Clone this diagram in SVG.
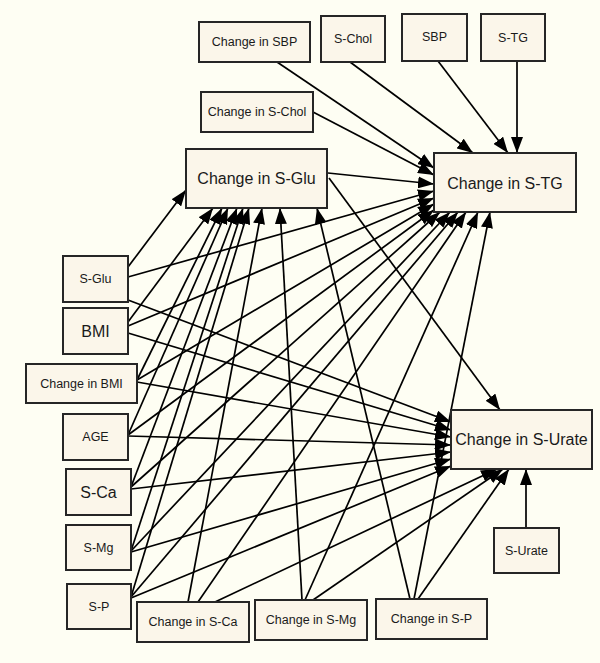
<svg xmlns="http://www.w3.org/2000/svg" width="600" height="663" viewBox="0 0 600 663">
<style>
.n rect{fill:#FBF6EA;stroke:#262626;stroke-width:2}
.n text{font-family:"Liberation Sans",Arial,sans-serif;font-size:12.5px;fill:#1a1a1a;text-anchor:middle;dominant-baseline:central}
.n text.b{font-size:16px}
.n text.m{font-size:16px}
#edges line{stroke:#000;stroke-width:1.7;marker-end:url(#ah)}
</style>
<defs>
<marker id="ah" markerUnits="userSpaceOnUse" markerWidth="17" markerHeight="12" refX="16" refY="6" orient="auto">
<path d="M0,0 L16,6 L0,12 z" fill="#000"/>
</marker>
</defs>
<rect width="600" height="663" fill="#FEFEF3"/>
<g id="edges">
<line x1="277" y1="62" x2="434" y2="168"/>
<line x1="350" y1="62" x2="473" y2="153"/>
<line x1="438" y1="61" x2="508" y2="153"/>
<line x1="517" y1="61" x2="517" y2="153"/>
<line x1="313" y1="112" x2="434" y2="175"/>
<line x1="328" y1="173" x2="434" y2="184"/>
<line x1="329" y1="178" x2="500" y2="410"/>
<line x1="526" y1="528" x2="526" y2="469"/>
<line x1="128" y1="267" x2="186" y2="190"/>
<line x1="128" y1="277" x2="434" y2="191"/>
<line x1="128" y1="300" x2="451" y2="422"/>
<line x1="128" y1="322" x2="213" y2="208"/>
<line x1="128" y1="326" x2="434" y2="198"/>
<line x1="128" y1="333" x2="451" y2="430"/>
<line x1="137" y1="380" x2="222" y2="208"/>
<line x1="137" y1="380" x2="434" y2="204"/>
<line x1="137" y1="382" x2="451" y2="437"/>
<line x1="128" y1="435" x2="228" y2="208"/>
<line x1="128" y1="435" x2="434" y2="210"/>
<line x1="128" y1="436" x2="451" y2="445"/>
<line x1="131" y1="487" x2="237" y2="208"/>
<line x1="131" y1="487" x2="440" y2="212"/>
<line x1="131" y1="489" x2="451" y2="452"/>
<line x1="131" y1="551" x2="243" y2="208"/>
<line x1="131" y1="551" x2="450" y2="212"/>
<line x1="131" y1="552" x2="451" y2="459"/>
<line x1="131" y1="597" x2="249" y2="208"/>
<line x1="131" y1="597" x2="458" y2="212"/>
<line x1="131" y1="598" x2="451" y2="466"/>
<line x1="188" y1="602" x2="262" y2="208"/>
<line x1="198" y1="602" x2="466" y2="212"/>
<line x1="215" y1="602" x2="497" y2="469"/>
<line x1="302" y1="600" x2="280" y2="208"/>
<line x1="305" y1="600" x2="478" y2="212"/>
<line x1="313" y1="600" x2="503" y2="469"/>
<line x1="410" y1="599" x2="317" y2="208"/>
<line x1="414" y1="599" x2="490" y2="212"/>
<line x1="418" y1="599" x2="509" y2="469"/>
</g>
<g id="n_csbp" class="n"><rect x="199" y="22" width="111" height="40"/><text x="254.5" y="42">Change in SBP</text></g>
<g id="n_schol" class="n"><rect x="321" y="16" width="64" height="46"/><text x="353" y="39">S-Chol</text></g>
<g id="n_sbp" class="n"><rect x="402" y="14" width="65" height="47"/><text x="434.5" y="37">SBP</text></g>
<g id="n_stg" class="n"><rect x="481" y="14" width="64" height="47"/><text x="513" y="38">S-TG</text></g>
<g id="n_cschol" class="n"><rect x="201" y="92" width="112" height="40"/><text x="257" y="112">Change in S-Chol</text></g>
<g id="n_csglu" class="n"><rect x="186" y="149" width="141" height="59"/><text class="b" x="256.5" y="178.5">Change in S-Glu</text></g>
<g id="n_cstg" class="n"><rect x="434" y="153" width="142" height="59"/><text class="b" x="505" y="183">Change in S-TG</text></g>
<g id="n_sglu" class="n"><rect x="63" y="256" width="65" height="46"/><text x="95.5" y="279">S-Glu</text></g>
<g id="n_bmi" class="n"><rect x="63" y="308" width="65" height="46"/><text class="m" x="95.5" y="331">BMI</text></g>
<g id="n_cbmi" class="n"><rect x="26" y="364" width="111" height="39"/><text x="81.5" y="383.5">Change in BMI</text></g>
<g id="n_age" class="n"><rect x="63" y="414" width="65" height="46"/><text x="95.5" y="437">AGE</text></g>
<g id="n_sca" class="n"><rect x="66" y="469" width="65" height="46"/><text class="m" x="98.5" y="492">S-Ca</text></g>
<g id="n_smg" class="n"><rect x="66" y="525" width="65" height="45"/><text x="98.5" y="547.5">S-Mg</text></g>
<g id="n_sp" class="n"><rect x="67" y="584" width="64" height="45"/><text x="99" y="606.5">S-P</text></g>
<g id="n_csca" class="n"><rect x="137" y="602" width="112" height="40"/><text x="193" y="622">Change in S-Ca</text></g>
<g id="n_csmg" class="n"><rect x="255" y="600" width="112" height="40"/><text x="311" y="620">Change in S-Mg</text></g>
<g id="n_csp" class="n"><rect x="376" y="599" width="111" height="40"/><text x="431.5" y="619">Change in S-P</text></g>
<g id="n_csurate" class="n"><rect x="451" y="410" width="141" height="59"/><text class="b" x="521.5" y="439.5">Change in S-Urate</text></g>
<g id="n_surate" class="n"><rect x="494" y="528" width="65" height="45"/><text x="526.5" y="550.5">S-Urate</text></g>
</svg>
